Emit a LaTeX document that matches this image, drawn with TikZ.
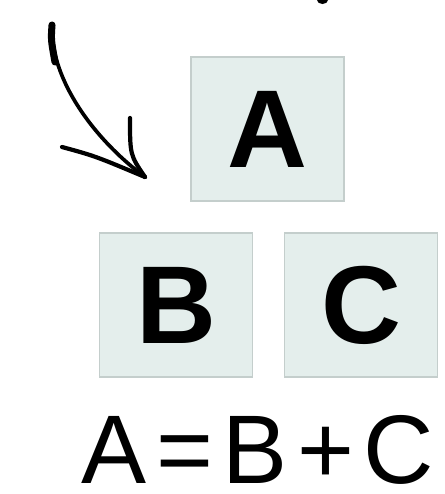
\documentclass[tikz,border=0pt]{standalone}
\usepackage{fontspec}
\setmainfont{Liberation Sans}
\usetikzlibrary{arrows.meta}

\definecolor{boxfill}{HTML}{E4EEEC}
\definecolor{boxedge}{HTML}{C4CECC}

\begin{document}
\begin{tikzpicture}[x=0.02cm, y=-0.02cm,
        term/.style={draw=boxedge, fill=boxfill, line width=0.8pt,
                     minimum width=3.06cm, minimum height=2.88cm, inner sep=0pt,
                     font=\fontsize{63}{70}\selectfont\bfseries},
        eqn/.style={inner sep=0pt, font=\fontsize{55.5}{60}\selectfont},
        pen/.style={line width=2.1pt, line cap=round, line join=round}
    ]
        \useasboundingbox (0,0) rectangle (445,494);

        % cut-off mark at the top edge
        \fill (322.5,0) ellipse [x radius=5.5, y radius=4];

        \node[term] (a) at (267.5,129) {A};
        \node[term] (b) at (176,305) {B};
        \node[term] (c) at (361,305) {C};
        \node[eqn, anchor=base west] (sum) at (81,483)
            {A\kern5.5pt=\kern5.5pt B\kern5.5pt+\kern5.5pt C};

        % hand-drawn arrow
        \coordinate (tail) at (52,25);
        \coordinate (tip) at (145,177);
        \coordinate (headl) at (62,147);
        \coordinate (headr) at (130,118);
        \draw[pen, line width=4pt] (tail) .. controls (51,40) .. (55,62);
        \draw[pen] (tail) .. controls (50,80) and (95,140) .. (tip);
        \draw[pen, line width=2.4pt] (headl) .. controls (95,156) .. (tip);
        \draw[pen, line width=2.4pt] (headr) .. controls (130,155) .. (tip);
    \end{tikzpicture}
\end{document}
